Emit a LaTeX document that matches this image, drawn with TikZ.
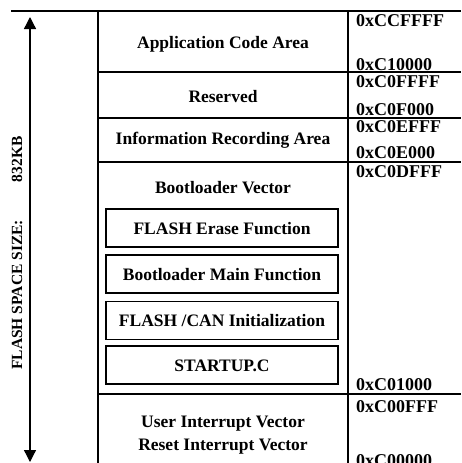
\documentclass[tikz,border=0pt]{standalone}
\usepackage{fontspec}
\setmainfont{Liberation Serif}
\usetikzlibrary{arrows.meta}
\begin{document}
\begin{tikzpicture}[x=1pt,y=-1pt,
  frame/.style={line width=1.4pt},
  lbl/.style={font=\fontsize{17.5}{20}\selectfont\bfseries,anchor=base,inner sep=0pt},
  addr/.style={font=\fontsize{18}{20}\selectfont\bfseries,anchor=base west,inner sep=0pt},
  fbox/.style={draw,line width=1.4pt,minimum width=232pt,minimum height=38pt,inner sep=0pt,
    font=\fontsize{17.5}{20}\selectfont\bfseries,text height=12.5pt,text depth=0pt},
  sizearrow/.style={line width=1.3pt,{Triangle[width=12pt,length=12pt]}-{Triangle[width=12pt,length=12pt]}}]
\useasboundingbox (0,0) rectangle (461,463);
% frame
\draw[frame] (11,11) -- (461,11);
\draw[frame] (98,11) -- (98,470);
\draw[frame] (348,11) -- (348,470);
\foreach \yy in {72,118,162,394} \draw[frame] (98,\yy) -- (461,\yy);
% size arrow
\coordinate (atop) at (30,17);
\coordinate (abot) at (30,462);
\draw[sizearrow] (abot) -- (atop);
\node[rotate=90,font=\fontsize{15.5}{18}\selectfont\bfseries,inner sep=0pt] (size) at (17,253) {FLASH SPACE SIZE:\hspace{38pt}832KB};
% region labels
\node[lbl] (app) at (223,48) {Application Code Area};
\node[lbl] (res) at (223,102) {Reserved};
\node[lbl] (info) at (223,144) {Information Recording Area};
\node[lbl] (bv) at (223,193) {Bootloader Vector};
\node[lbl] (uiv) at (223,427) {User Interrupt Vector};
\node[lbl] (riv) at (223,450) {Reset Interrupt Vector};
% inner boxes
\node[fbox] (erase) at (222,228) {FLASH Erase Function};
\node[fbox] (main) at (222,274) {Bootloader Main Function};
\node[fbox] (init) at (222,320.5) {FLASH /CAN Initialization};
\node[fbox] (start) at (222,365) {STARTUP.C};
% addresses
\node[addr] (a1) at (356,27) {0xCCFFFF};
\node[addr] (a2) at (356,70) {0xC10000};
\node[addr] (a3) at (356,87) {0xC0FFFF};
\node[addr] (a4) at (356,115) {0xC0F000};
\node[addr] (a5) at (356,132) {0xC0EFFF};
\node[addr] (a6) at (356,158) {0xC0E000};
\node[addr] (a7) at (356,177) {0xC0DFFF};
\node[addr] (a8) at (356,390) {0xC01000};
\node[addr] (a9) at (356,412) {0xC00FFF};
\node[addr] (a10) at (356,466) {0xC00000};
\end{tikzpicture}
\end{document}
